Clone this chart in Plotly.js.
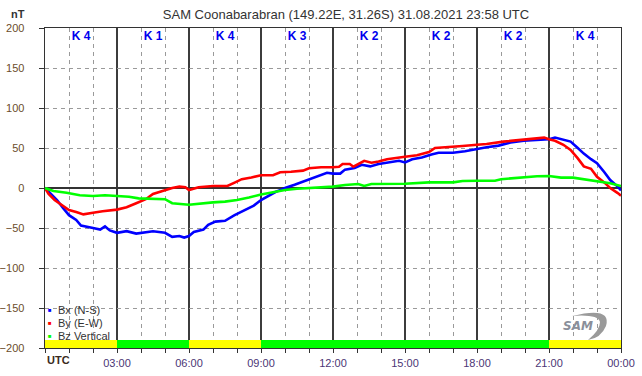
<!DOCTYPE html>
<html>
<head>
<meta charset="utf-8">
<script src="https://cdn.plot.ly/plotly-3.0.1.min.js"></script>
<style>html,body{margin:0;padding:0;background:#fff;}#chart{width:642px;height:376px;}</style>
</head>
<body>
<div id="chart"></div>
<script>
// ---- Data (hours UTC, nT) ----
const bxHours = [0,0.25,0.5,0.75,1.0,1.3,1.5,2.0,2.3,2.5,2.7,3.0,3.4,3.8,4.0,4.5,5.0,5.3,5.6,5.8,6.0,6.2,6.6,6.8,7.1,7.5,7.9,8.3,8.7,9.0,9.3,9.6,9.85,10,10.4,10.75,11,11.4,11.75,12,12.3,12.5,12.9,13.2,13.55,13.9,14.3,14.75,15,15.3,15.7,16.1,16.4,17,17.5,18,18.4,18.9,19.4,19.95,20.5,21,21.25,21.6,21.9,22.2,22.45,22.75,23,23.3,23.55,23.85,24];
const bxValues = [0,-7,-15,-25,-34,-40,-47,-50,-52,-48,-53,-56,-54,-57,-56,-54,-56,-61,-60,-62,-60,-55,-52,-46,-42,-41,-34,-28,-22,-15,-10,-5,-2,0,4,8,11,15,19,18,18,23,25,29,27,30,32,34,32,36,38,42,44,44,46,49,51,53,57,59,60,61,63,60,58,50,43,36,31,20,10,2,-3];

const byHours = [0,0.15,0.4,0.6,0.8,1.0,1.3,1.6,2.0,2.4,3.0,3.4,3.8,4.2,4.5,5.0,5.3,5.6,5.85,6.0,6.4,7.0,7.6,7.9,8.2,8.6,9.0,9.5,9.8,10.25,10.75,11.0,11.5,12.0,12.25,12.4,12.7,12.85,13.05,13.3,13.6,13.9,14.25,14.6,15.0,15.5,16.0,16.25,16.7,17.1,17.4,18,18.4,19.1,19.8,20.5,20.8,21,21.25,21.6,21.9,22.2,22.45,22.75,23,23.3,23.55,23.85,24];
const byValues = [0,-7.5,-15,-19,-24,-27.5,-30,-33,-31,-29,-27,-24,-19,-14,-7.5,-2.5,0,1.7,1,-2.5,1,2.5,2.5,6.7,11,13,16,16,19.6,20.4,21.7,24.6,26,26,26.6,30,30,26.6,30,34,31.6,33,36,37,39,41,45,50,51,51,52.5,54,55,58,60,62,63,61,59,54,47.5,37,27,24,14,7,0,-6,-9.5];

const bzHours = [0,0.35,0.9,1.45,2.0,2.5,3.0,3.5,3.9,4.5,5.0,5.3,6.0,7.0,7.5,8.0,8.5,9.0,9.4,10,10.5,11,11.5,12,12.5,13.05,13.3,13.6,15,16,17,17.4,18,18.75,19,19.7,20.5,21,21.5,22,22.45,23,23.55,24];
const bzValues = [0,-3.75,-6,-9,-10,-9,-10,-11,-13,-13.5,-14,-19,-21,-18,-17,-15,-12,-8,-5.5,-2.5,-1,0,1,1.7,3.75,5,2.5,5,5.4,7,7,8.75,9,9,11,13,14.6,15,13,13,11,8.75,6,2.5];

const kBlockStart = [0,3,6,9,12,15,18,21];
const kIndex = [4,1,4,3,2,2,2,4];

const tickHours = [0,3,6,9,12,15,18,21,24];
const tickLabels = ['','03:00','06:00','09:00','12:00','15:00','18:00','21:00','00:00'];

const seriesNames = ['Bx (N-S)','By (E-W)','Bz Vertical'];
const seriesColors = ['#0000ff','#ff0000','#00ff00'];

// ---- helpers ----
const L = 45, R = 621, T = 28, B = 348;
const px = x => (x - L) / (R - L);
const py = y => (B - y) / (B - T);

const lineTraces = [
  {x: bxHours, y: bxValues},
  {x: byHours, y: byValues},
  {x: bzHours, y: bzValues}
].map((d, i) => ({
  x: d.x, y: d.y, type: 'scatter', mode: 'lines', name: seriesNames[i],
  line: {color: seriesColors[i], width: 2.6}, showlegend: false, hoverinfo: 'skip'
}));

const blockCenters = kBlockStart.map(s => s + 1.5);
const kBar = {
  type: 'bar', x: blockCenters, y: kIndex.map(() => 10), base: -200, width: 3,
  marker: {color: kIndex.map(k => k >= 4 ? '#ffff00' : '#00ff00'), line: {width: 0}},
  showlegend: false, hoverinfo: 'skip'
};
const kText = {
  type: 'scatter', mode: 'text', x: blockCenters, y: kIndex.map(() => 189),
  text: kIndex.map(k => '<b>K ' + k + '</b>'),
  textfont: {family: 'Liberation Sans, Arial, sans-serif', size: 12, color: '#0000ee'},
  showlegend: false, hoverinfo: 'skip'
};

const legendRows = [310, 323, 336];
const annotations = [];
seriesNames.forEach((n, i) => {
  annotations.push({xref: 'paper', yref: 'paper', x: px(50), y: py(legendRows[i]), xanchor: 'center', yanchor: 'middle',
    text: '■', showarrow: false, font: {size: 6, color: seriesColors[i]}});
  annotations.push({xref: 'paper', yref: 'paper', x: px(56), y: py(legendRows[i]), xanchor: 'left', yanchor: 'middle',
    text: n, showarrow: false, font: {family: 'Liberation Sans, Arial, sans-serif', size: 11, color: '#333'}});
});
annotations.push({xref: 'paper', yref: 'paper', x: px(9), y: py(14), xanchor: 'left', yanchor: 'middle',
  text: '<b>nT</b>', showarrow: false, font: {family: 'Liberation Sans, Arial, sans-serif', size: 11, color: '#333'}});
annotations.push({xref: 'paper', yref: 'paper', x: px(45), y: py(360), xanchor: 'left', yanchor: 'middle',
  text: '<b>UTC</b>', showarrow: false, font: {family: 'Liberation Sans, Arial, sans-serif', size: 11, color: '#3a2a20'}});
annotations.push({xref: 'paper', yref: 'paper', x: px(578), y: py(326), xanchor: 'center', yanchor: 'middle',
  text: '<b><i>SAM</i></b>', showarrow: false, font: {family: 'DejaVu Sans, sans-serif', size: 12, color: '#8a8f9a'}});

const shapes = [{
  type: 'path', xref: 'paper', yref: 'paper',
  path: `M ${px(572)} ${py(316)} Q ${px(612)} ${py(306)} ${px(606)} ${py(326)} Q ${px(601)} ${py(338)} ${px(588)} ${py(340)} Q ${px(600)} ${py(330)} ${px(600)} ${py(322)} Q ${px(598)} ${py(314)} ${px(572)} ${py(316)} Z`,
  fillcolor: '#9a9a9a', line: {width: 0}, layer: 'above'
}];

const layout = {
  width: 642, height: 376,
  margin: {l: L, r: 642 - R, t: T, b: 376 - B, pad: 0},
  paper_bgcolor: '#fff', plot_bgcolor: '#fff',
  font: {family: 'Liberation Sans, Arial, sans-serif', size: 11, color: '#333'},
  title: {text: 'SAM Coonabarabran (149.22E, 31.26S) 31.08.2021 23:58 UTC',
    x: 346 / 642, xanchor: 'center', y: 1 - 14 / 376, yanchor: 'middle',
    font: {family: 'Liberation Sans, Arial, sans-serif', size: 13, color: '#333'}},
  showlegend: false,
  bargap: 0,
  xaxis: {
    range: [0, 24], tickmode: 'array', tickvals: tickHours, ticktext: tickLabels,
    showgrid: true, gridcolor: '#3c3c3c', gridwidth: 1.4,
    ticks: 'outside', ticklen: 4, tickcolor: '#333', tickwidth: 1,
    tickfont: {size: 11, color: '#4b3575'},
    minor: {dtick: 1, tick0: 0, showgrid: true, gridcolor: '#9a9a9a', griddash: '4px,4px', gridwidth: 1,
      ticks: 'outside', ticklen: 4, tickcolor: '#333'},
    showline: true, linecolor: '#333', linewidth: 1.4, mirror: true, zeroline: false, fixedrange: true
  },
  yaxis: {
    range: [-200, 200], dtick: 50, tick0: 0,
    showgrid: true, gridcolor: '#9a9a9a', griddash: '4px,4px', gridwidth: 1,
    zeroline: true, zerolinecolor: '#333', zerolinewidth: 1.4,
    ticks: 'outside', ticklen: 5, tickcolor: '#333', ticklabelstandoff: 12,
    tickfont: {size: 11, color: '#6b4c2a'},
    showline: true, linecolor: '#333', linewidth: 1.4, mirror: true, fixedrange: true
  },
  annotations: annotations,
  shapes: shapes
};

Plotly.newPlot('chart', [kBar, ...lineTraces, kText], layout, {displayModeBar: false, staticPlot: true});
</script>
</body>
</html>
